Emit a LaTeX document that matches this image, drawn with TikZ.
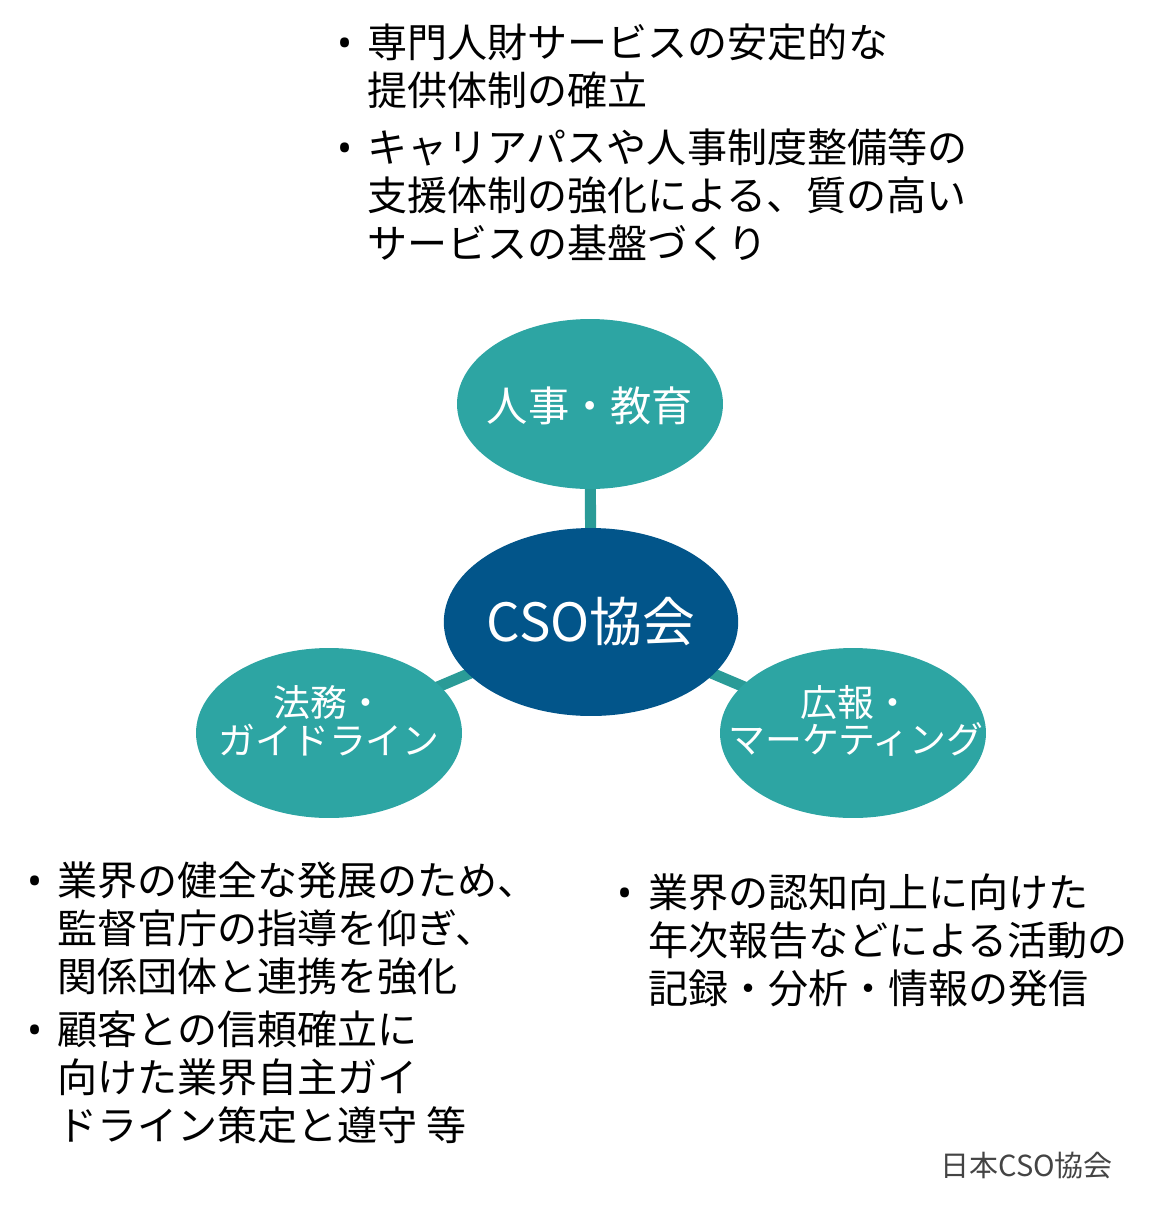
\documentclass[tikz,border=0pt]{standalone}
\usepackage{fontspec}
\setmainfont{Noto Sans CJK JP}
\newfontfamily\dotfont{Noto Sans}
\usetikzlibrary{shapes.geometric,backgrounds}
\definecolor{areateal}{HTML}{2DA5A3}
\definecolor{linkteal}{HTML}{2A9B97}
\definecolor{hubblue}{HTML}{02558A}
\definecolor{notegray}{HTML}{444444}
\tikzset{
  area/.style={ellipse,fill=areateal,inner sep=0,minimum width=5.32cm,minimum height=3.4cm},
  areatext/.style={text=white,align=center,inner sep=0,font=\fontsize{21pt}{21.5pt}\selectfont},
  item/.style={anchor=base west,align=left,inner sep=0,font=\fontsize{22.8pt}{27.3pt}\selectfont},
  dot/.style={anchor=base,inner sep=0,font=\dotfont\fontsize{22.8pt}{27.3pt}\selectfont}
}
\begin{document}
\begin{tikzpicture}[x=0.02cm,y=-0.02cm]
 \useasboundingbox (0,0) rectangle (1165,1208);
 \node [area] (hr) at (590,404) {};
 \node [text=white,inner sep=0,font=\fontsize{23.5pt}{24pt}\selectfont] (hrtext) at (590,406) {人事・教育};
 \node [ellipse,fill=hubblue,inner sep=0,minimum width=5.82cm,minimum height=3.76cm,
        text=white,font=\fontsize{30pt}{31pt}\selectfont] (hub) at (591,622) {CSO協会};
 \node [area] (law) at (329,733) {};
 \node [areatext] (lawtext) at (329,721) {法務・\\ガイドライン};
 \node [area] (pr) at (853,733) {};
 \node [areatext] (prtext) at (856,721) {広報・\\マーケティング};
 \begin{pgfonlayer}{background}
  \draw [linkteal,line width=6.3pt] (hub.center) -- (hr.center);
  \draw [linkteal,line width=6.3pt] (hub.center) -- (law.center);
  \draw [linkteal,line width=6.3pt] (hub.center) -- (pr.center);
 \end{pgfonlayer}
 % notes (placed by the baseline of their last line)
 \node [item] (hr1) at (367,105) {専門人財サービスの安定的な\\提供体制の確立};
 \node [item] (hr2) at (367,258) {キャリアパスや人事制度整備等の\\支援体制の強化による、質の高い\\サービスの基盤づくり};
 \node [item] (law1) at (57,991) {業界の健全な発展のため、\\監督官庁の指導を仰ぎ、\\関係団体と連携を強化};
 \node [item] (law2) at (57,1140) {顧客との信頼確立に\\向けた業界自主ガイ\\ドライン策定と遵守 等};
 \node [item] (pr1) at (648,1003) {業界の認知向上に向けた\\年次報告などによる活動の\\記録・分析・情報の発信};
 \foreach \n/\x/\y in {hr1/345/57,hr2/345/162,law1/35/895,law2/35/1044,pr1/625/907}
   \node [dot] (dot\n) at (\x,\y) {•};
 \node [anchor=base west,inner sep=0,text=notegray,font=\fontsize{16.5pt}{17pt}\selectfont] (source) at (940,1176) {日本CSO協会};
\end{tikzpicture}
\end{document}
